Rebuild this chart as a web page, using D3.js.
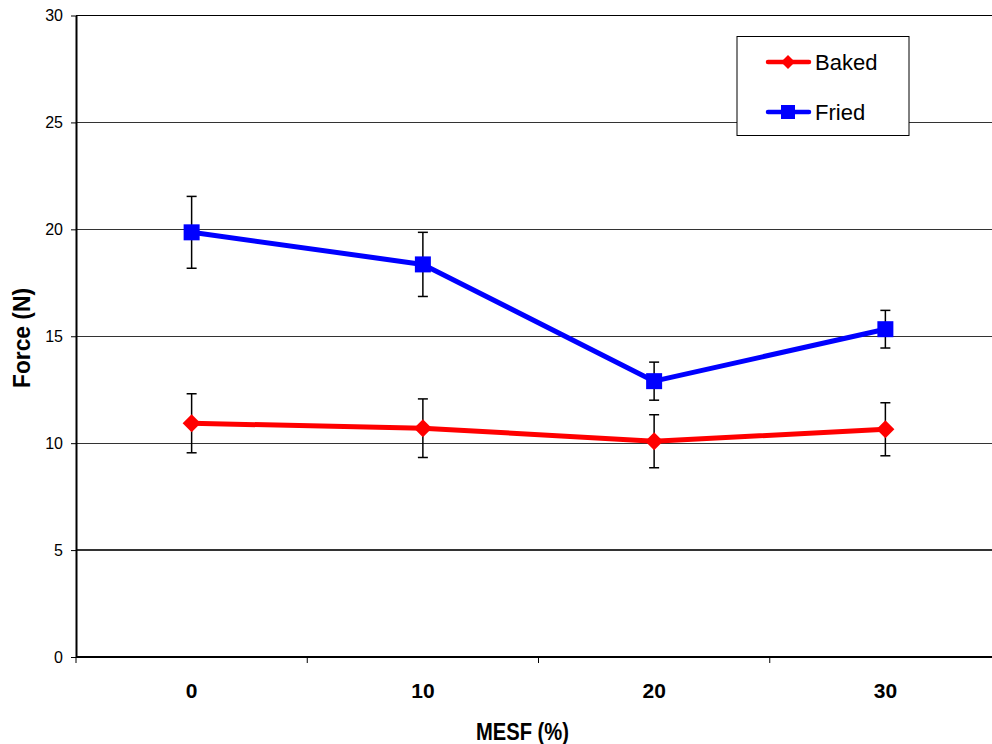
<!DOCTYPE html>
<html><head><meta charset="utf-8">
<script src="https://cdn.jsdelivr.net/npm/d3@7"></script>
<style>body{margin:0;background:#fff}svg{display:block}</style>
</head><body>
<svg id="c" width="992" height="744"></svg>
<script>
const categories = ["0", "10", "20", "30"];
const bakedMean = [10.93, 10.70, 10.09, 10.65];
const bakedErr  = [1.38, 1.37, 1.24, 1.24];
const friedMean = [19.86, 18.36, 12.90, 15.33];
const friedErr  = [1.68, 1.50, 0.89, 0.88];
const yTicks = [0, 5, 10, 15, 20, 25, 30];
const series = [
  {name: "Baked", mean: bakedMean, err: bakedErr, color: "#ff0000", marker: "diamond"},
  {name: "Fried", mean: friedMean, err: friedErr, color: "#0000ff", marker: "square"}
];

const FONT = "Liberation Sans, Arial, sans-serif";
const svg = d3.select("#c");
const L = 76, R = 1001, T = 15.5, B = 657;
const x = d3.scaleBand().domain(categories).range([L, R]);
const y = d3.scaleLinear().domain([0, 30]).range([B, T]);
const cx = c => x(c) + x.bandwidth() / 2;

// gridlines
svg.append("g").selectAll("line").data(yTicks.filter(t => t > 0)).join("line")
  .attr("x1", L).attr("x2", 992).attr("y1", d => y(d)).attr("y2", d => y(d))
  .attr("stroke", d => d === 30 ? "#000" : "#333").attr("stroke-width", 1.2).attr("shape-rendering", "crispEdges");

// y axis
const yAxis = svg.append("g").attr("transform", `translate(${L},0)`)
  .call(d3.axisLeft(y).tickValues(yTicks).tickSize(5).tickSizeOuter(0).tickPadding(8));
yAxis.select(".domain").attr("stroke", "#000").attr("stroke-width", 2);
yAxis.selectAll(".tick line").attr("stroke", "#000");
yAxis.selectAll("text").attr("font-family", FONT).attr("font-size", 16).attr("fill", "#000");

// x axis
const xAxis = svg.append("g").attr("transform", `translate(0,${B})`)
  .call(d3.axisBottom(x).tickSize(0).tickPadding(26));
xAxis.select(".domain").remove();
svg.append("line").attr("x1", L).attr("x2", 992).attr("y1", B).attr("y2", B).attr("stroke", "#000").attr("stroke-width", 2);
const bounds = categories.map(c => x(c)).concat([x(categories[categories.length-1]) + x.bandwidth()]);
svg.append("g").selectAll("line").data(bounds.filter(b => b < 992)).join("line")
  .attr("x1", d => d).attr("x2", d => d).attr("y1", B).attr("y2", B + 6)
  .attr("stroke", "#000").attr("stroke-width", 1);
xAxis.selectAll("text").attr("font-family", FONT).attr("font-size", 21)
  .attr("font-weight", "bold").attr("fill", "#000");

// axis titles
svg.append("text").attr("x", 522.5).attr("y", 740).attr("text-anchor", "middle")
  .attr("font-family", FONT).attr("font-size", 23).attr("font-weight", "bold")
  .attr("textLength", 93).attr("lengthAdjust", "spacingAndGlyphs")
  .text("MESF (%)");
svg.append("text").attr("transform", "translate(30,338) rotate(-90)").attr("text-anchor", "middle")
  .attr("font-family", FONT).attr("font-size", 23).attr("font-weight", "bold")
  .attr("textLength", 100).attr("lengthAdjust", "spacingAndGlyphs")
  .text("Force (N)");

function drawMarker(g, type, px, py, color) {
  if (type === "diamond") {
    g.append("path").attr("d", `M${px},${py-9}L${px+9},${py}L${px},${py+9}L${px-9},${py}Z`).attr("fill", color);
  } else {
    g.append("rect").attr("x", px-8).attr("y", py-8).attr("width", 16).attr("height", 16).attr("fill", color);
  }
}

series.forEach(s => {
  const g = svg.append("g");
  categories.forEach((c, i) => {
    const px = cx(c), hi = y(s.mean[i] + s.err[i]), lo = y(s.mean[i] - s.err[i]);
    g.append("line").attr("x1", px).attr("x2", px).attr("y1", hi).attr("y2", lo).attr("stroke", "#000").attr("stroke-width", 1.5);
    [hi, lo].forEach(v => g.append("line").attr("x1", px-5).attr("x2", px+5).attr("y1", v).attr("y2", v).attr("stroke", "#000").attr("stroke-width", 1.5));
  });
  const line = d3.line().x((d, i) => cx(categories[i])).y(d => y(d));
  g.append("path").attr("d", line(s.mean)).attr("fill", "none").attr("stroke", s.color).attr("stroke-width", 5).attr("stroke-linejoin", "round");
  categories.forEach((c, i) => drawMarker(g, s.marker, cx(c), y(s.mean[i]), s.color));
});

// legend
const lg = svg.append("g");
lg.append("rect").attr("x", 737).attr("y", 36.5).attr("width", 172).attr("height", 99)
  .attr("fill", "#fff").attr("stroke", "#000").attr("stroke-width", 1);
series.forEach((s, i) => {
  const ly = 62 + i * 50;
  lg.append("line").attr("x1", 768).attr("x2", 809).attr("y1", ly).attr("y2", ly).attr("stroke", s.color).attr("stroke-width", 4.5).attr("stroke-linecap", "round");
  if (s.marker === "diamond") {
    lg.append("path").attr("d", `M788,${ly-7}L795,${ly}L788,${ly+7}L781,${ly}Z`).attr("fill", s.color);
  } else {
    lg.append("rect").attr("x", 781).attr("y", ly-7).attr("width", 14).attr("height", 14).attr("fill", s.color);
  }
  lg.append("text").attr("x", 815).attr("y", ly + 8).attr("font-family", FONT)
    .attr("font-size", 22).attr("fill", "#000").text(s.name);
});
</script>
</body></html>
